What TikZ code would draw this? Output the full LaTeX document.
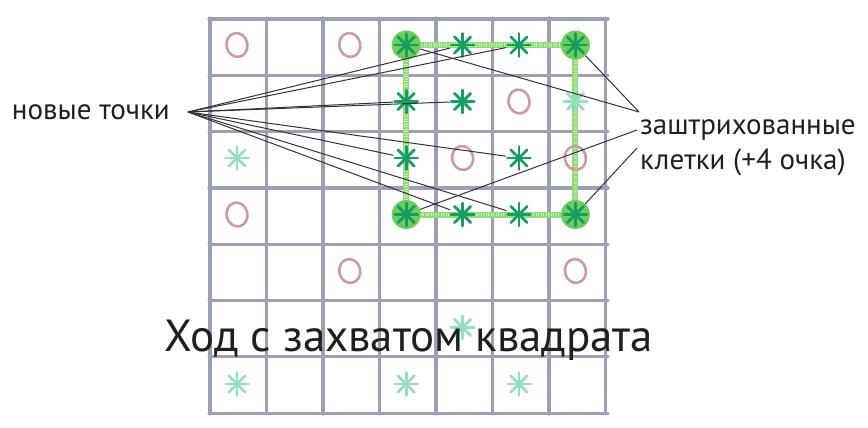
\documentclass[tikz,border=0pt]{standalone}
\usepackage{fontspec}
\setmainfont{PT Sans}
\usepackage{xcolor}
\definecolor{grisgrille}{RGB}{155,160,178}
\definecolor{rosrond}{RGB}{205,155,162}
\definecolor{vertfonce}{RGB}{22,158,98}
\definecolor{vertpale}{RGB}{150,222,192}
\definecolor{vertcoin}{RGB}{110,205,90}
\definecolor{vertcarre}{RGB}{145,218,120}
\definecolor{encre}{RGB}{50,50,55}
\usetikzlibrary{positioning,shapes.geometric,backgrounds}

\begin{document}
\begin{tikzpicture}[x=1pt, y=-1pt,
      trait/.style={draw=grisgrille, line width=3.2pt, line cap=round},
      rond/.style={draw=rosrond, line width=2.6pt, ellipse, rotate=12,
                   minimum width=21pt, minimum height=24pt, inner sep=0pt},
      etoile/.style={circle, inner sep=0pt, minimum size=26pt,
                     path picture={\foreach \a in {0,45,90,135}
                       \draw[line width=2.8pt, line cap=round, #1]
                         (path picture bounding box.center)
                         ++(\a:11.5pt) -- ++(\a+180:23pt);}},
      coin/.style={etoile=vertfonce, fill=vertcoin, minimum size=29pt},
      carre/.style={draw=vertcarre, line width=6pt, line join=round},
      lien/.style={draw=encre, line width=1pt},
      etiq/.style={font=\fontsize{29}{35}\selectfont, color=black!88, align=left}]
    \useasboundingbox (0,0) rectangle (868,428);
    % points du jeu
    \foreach \r/\c in {0/0,0/2,1/5,2/4,2/6,3/0,4/2,4/6}
      \node[rond] (p\r\c) at ({237+56.4*\c},{45+56.5*\r}) {};
    \foreach \r/\c in {1/6,2/0,5/4,6/0,6/3,6/5}
      \node[etoile=vertpale] (p\r\c) at ({237+56.4*\c},{45+56.5*\r}) {};
    \foreach \r/\c in {0/4,0/5,1/3,1/4,2/3,2/5,3/4,3/5}
      \node[etoile=vertfonce] (p\r\c) at ({237+56.4*\c},{45+56.5*\r}) {};
    \foreach \r/\c in {0/3,0/6,3/3,3/6}
      \node[coin] (p\r\c) at ({237+56.4*\c},{45+56.5*\r}) {};
    \begin{scope}[on background layer]
      \foreach \i in {0,...,7} {
        \draw[trait] ({210+56.5*\i},18) -- ({210+56.5*\i},414);
        \draw[trait] (209,{19+56.3*\i}) -- (608,{19+56.3*\i});
      }
      \draw[carre] (p03.center) -- (p06.center) -- (p36.center) -- (p33.center) -- cycle;
      \draw[carre, draw=vertcarre!50!white, line width=3.5pt, dash pattern=on 1pt off 1.5pt]
        (p03.center) -- (p06.center) -- (p36.center) -- (p33.center) -- cycle;
    \end{scope}
    % etiquettes
    \node[etiq, anchor=east, inner sep=0pt] (nouv) at (170,112) {новые точки};
    \node[etiq, anchor=north west, inner sep=0pt] (hach) at (640,119)
      {заштрихованные\\клетки (+4 очка)};
    \node[font=\fontsize{45}{50}\selectfont, color=black!88] (titre) at (409,340)
      {Ход с захватом квадрата};
    \coordinate (nv) at (188,112);
    \coordinate (h1) at (639,112);
    \coordinate (h2) at (637,130);
    \coordinate (h3) at (637,148);
    \foreach \p in {04,05,13,14,23,25,34,35}
      \draw[lien] (nv) -- (p\p);
    \draw[lien] (h1) -- (p03);
    \draw[lien] (h1) -- (p06);
    \draw[lien] (h2) -- (p33);
    \draw[lien] (h3) -- (p36);
  \end{tikzpicture}
\end{document}
